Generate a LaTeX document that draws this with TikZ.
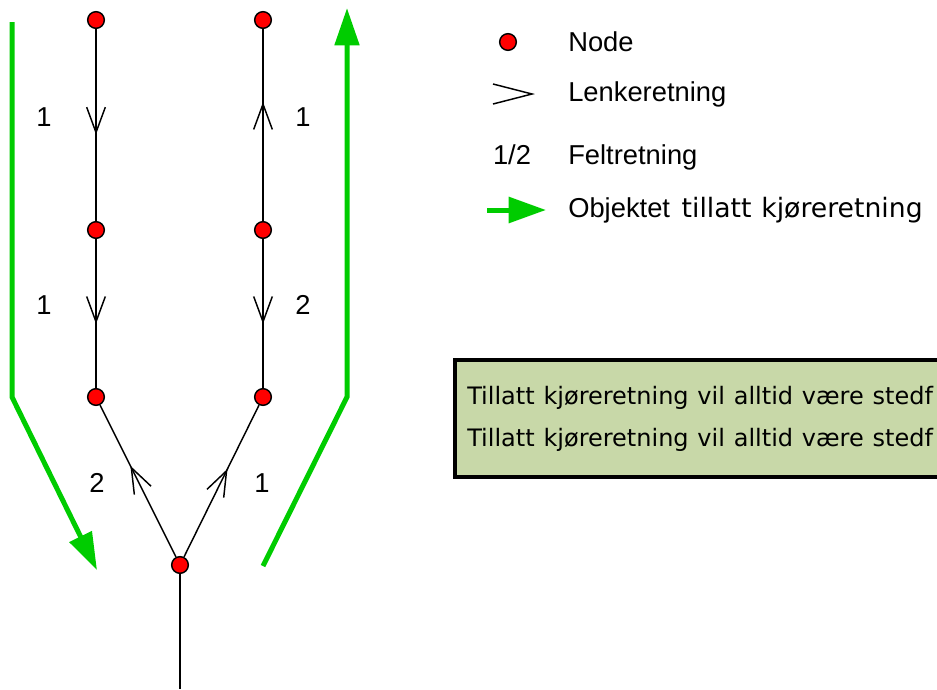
\documentclass[tikz,border=0pt]{standalone}
\usepackage{fontspec}
\setmainfont{Liberation Sans}
\newfontfamily\kjfont{DejaVu Sans}
\newfontfamily\boksfont[WordSpace=1.15]{DejaVu Sans}
\usepackage{tikz}
\usetikzlibrary{arrows.meta,decorations.markings}
\pgfdeclarelayer{bg}
\pgfsetlayers{bg,main}
\definecolor{objgreen}{RGB}{0,204,0}
\definecolor{boxgreen}{RGB}{200,216,168}
\tikzset{
  punkt/.style={circle, draw, line width=1.1pt, fill=red, inner sep=0pt, minimum size=12.5pt},
  lenke/.style={line width=1.1pt, postaction={decorate},
    decoration={markings, mark=at position #1 with {\arrow{Straight Barb[length=19pt,width=14pt]}}}},
  objekt/.style={draw=objgreen, line width=3.75pt, -{Triangle[length=28pt,width=18pt]}},
  felt/.style={inner sep=0pt, font=\fontsize{20.5}{24}\selectfont},
}

\begin{document}
\begin{tikzpicture}[x=0.75pt, y=-0.75pt]
        \useasboundingbox (0,0) rectangle (937,689);
        \clip (0,0) rectangle (937,689);
        % nodes
        \node (v0) [punkt] at (96,20) {};
        \node (v1) [punkt] at (96,230) {};
        \node (v2) [punkt] at (96,397) {};
        \node (v3) [punkt] at (263,20) {};
        \node (v4) [punkt] at (263,230) {};
        \node (v5) [punkt] at (263,397) {};
        \node (v6) [punkt] at (180,565) {};
        \coordinate (v7) at (180,689);
        % feltretning
        \node (f0) [felt] at (44,117) {1};
        \node (f1) [felt] at (44,305) {1};
        \node (f2) [felt] at (97,483) {2};
        \node (f3) [felt] at (303,117) {1};
        \node (f4) [felt] at (303,305) {2};
        \node (f5) [felt] at (262,483) {1};
        \begin{pgfonlayer}{bg}
                \draw (v0) edge [lenke=0.55] (v1);
                \draw (v1) edge [lenke=0.57] (v2);
                \draw (v4) edge [lenke=0.62] (v3);
                \draw (v4) edge [lenke=0.57] (v5);
                \draw (v6) edge [lenke=0.6] (v2);
                \draw (v6) edge [lenke=0.58] (v5);
                \draw [line width=1.1pt] (v6) -- (v7);
        \end{pgfonlayer}
        % tillatt kjoreretning
        \coordinate (g0) at (12,22);
        \coordinate (g1) at (12,397);
        \coordinate (g2) at (97,570);
        \coordinate (g3) at (263,566);
        \coordinate (g4) at (347,397);
        \coordinate (g5) at (347,8);
        \draw [objekt] (g0) -- (g1) -- (g2);
        \draw [objekt] (g3) -- (g4) -- (g5);
        % legend
        \node (l0) [punkt] at (508,42) {};
        \node (l1) [felt, anchor=west] at (568,42) {Node};
        \coordinate (c0) at (493,84);
        \coordinate (c1) at (532,94);
        \coordinate (c2) at (493,104);
        \draw [line width=1.1pt] (c0) -- (c1) -- (c2);
        \node (l2) [felt, anchor=west] at (568,94) {Lenkeretning};
        \node (l3) [felt] at (512,155) {1/2};
        \node (l4) [felt, anchor=west] at (568,157) {Feltretning};
        \coordinate (c3) at (487,210);
        \coordinate (c4) at (546,210);
        \draw [objekt, -{Triangle[length=28pt,width=19pt]}] (c3) -- (c4);
        \node (l5) [felt, anchor=west] at (568,210) {Objektet\hspace{3pt} \kjfont\fontsize{20}{24}\selectfont tillatt kjøreretning};
        % boks
        \draw [line width=3pt, fill=boxgreen] (455,360) rectangle (990,477);
        \node (t0) [felt, anchor=west] at (467,398) {\boksfont\fontsize{18}{22}\selectfont Tillatt kjøreretning vil alltid være stedf};
        \node (t1) [felt, anchor=west] at (467,440) {\boksfont\fontsize{18}{22}\selectfont Tillatt kjøreretning vil alltid være stedf};
\end{tikzpicture}
\end{document}
